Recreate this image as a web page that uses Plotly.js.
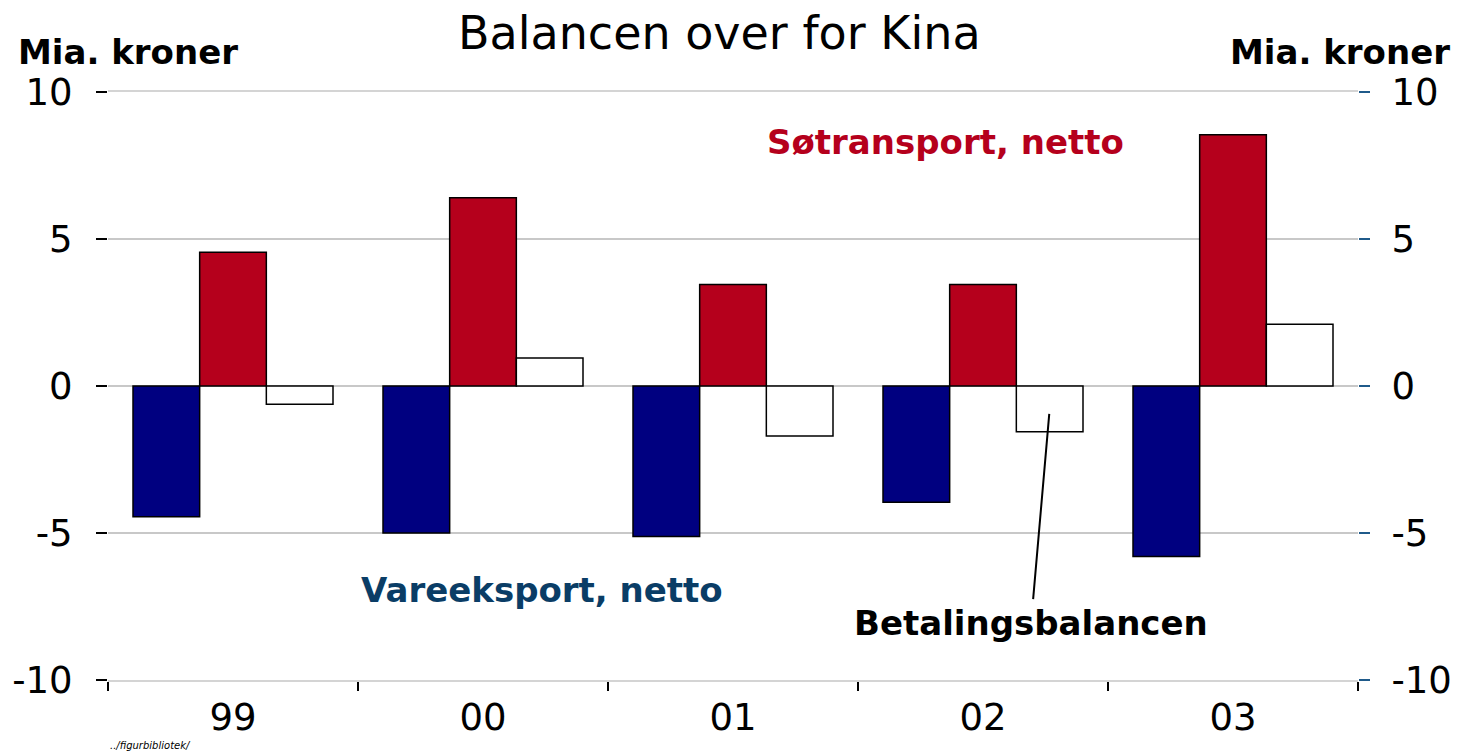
<!DOCTYPE html>
<html>
<head>
<meta charset="utf-8">
<script src="https://cdn.plot.ly/plotly-3.0.1.min.js"></script>
<style>html,body{margin:0;padding:0;background:#fff;}#chart{width:1459px;height:753px;}</style>
</head>
<body>
<div id="chart"></div>
<script>
const years = ['99', '00', '01', '02', '03'];
const vareeksport = [-4.45, -5.0, -5.12, -3.95, -5.8];
const soetransport = [4.55, 6.4, 3.45, 3.45, 8.55];
const betalingsbalancen = [-0.62, 0.95, -1.7, -1.56, 2.1];
const yTicks = [-10, -5, 0, 5, 10];

const FONT = '"DejaVu Sans", sans-serif';
const barLine = {color: '#000', width: 1.5};

const traces = [
  {type: 'bar', name: 'Vareeksport, netto', x: years, y: vareeksport,
   marker: {color: '#000080', line: barLine}, hoverinfo: 'skip'},
  {type: 'bar', name: 'Søtransport, netto', x: years, y: soetransport,
   marker: {color: '#b5001c', line: barLine}, hoverinfo: 'skip'},
  {type: 'bar', name: 'Betalingsbalancen', x: years, y: betalingsbalancen,
   marker: {color: '#ffffff', line: barLine}, hoverinfo: 'skip'},
  {type: 'scatter', x: years, y: betalingsbalancen, yaxis: 'y2', mode: 'none',
   showlegend: false, hoverinfo: 'skip'}
];

const layout = {
  width: 1459, height: 753,
  margin: {l: 108, r: 101, t: 92, b: 73},
  paper_bgcolor: '#fff', plot_bgcolor: '#fff',
  showlegend: false,
  barmode: 'group', bargap: 0.2, bargroupgap: 0,
  font: {family: FONT, color: '#000'},
  title: {text: 'Balancen over for Kina', x: 0.493, xanchor: 'center', y: 0.956, yanchor: 'middle',
          font: {size: 46, family: FONT, color: '#000'}},
  xaxis: {type: 'category', range: [-0.5, 4.5], tickson: 'boundaries',
          ticks: 'outside', ticklen: 9, tickwidth: 2, tickcolor: '#000',
          showgrid: false, showline: true, linecolor: '#d4d4d4', linewidth: 2, mirror: true, zeroline: false,
          tickfont: {size: 37, family: FONT, color: '#000'}, ticklabelstandoff: 4, fixedrange: true},
  yaxis: {range: [-10, 10], tickvals: yTicks, ticktext: yTicks.map(String),
          ticks: 'outside', ticklen: 11, tickwidth: 2, tickcolor: '#000',
          showgrid: true, gridcolor: '#c8c8c8', gridwidth: 2,
          zeroline: true, zerolinecolor: '#c8c8c8', zerolinewidth: 2, showline: false,
          tickfont: {size: 37, family: FONT, color: '#000'}, ticklabelstandoff: 16, fixedrange: true},
  yaxis2: {range: [-10, 10], tickvals: yTicks, ticktext: yTicks.map(String),
           overlaying: 'y', side: 'right',
           ticks: 'outside', ticklen: 11, tickwidth: 2, tickcolor: '#1f5a8a',
           showgrid: false, zeroline: false, showline: false,
           tickfont: {size: 37, family: FONT, color: '#000'}, ticklabelstandoff: 14, fixedrange: true},
  annotations: [
    {xref: 'paper', yref: 'paper', x: -0.074, y: 1.068, xanchor: 'left', yanchor: 'middle',
     text: '<b>Mia. kroner</b>', showarrow: false, font: {size: 34, family: FONT, color: '#000'}},
    {xref: 'paper', yref: 'paper', x: 1.075, y: 1.068, xanchor: 'right', yanchor: 'middle',
     text: '<b>Mia. kroner</b>', showarrow: false, font: {size: 34, family: FONT, color: '#000'}},
    {xref: 'x', yref: 'y', x: 2.85, y: 8.3, text: '<b>Søtransport, netto</b>', showarrow: false,
     font: {size: 34, family: FONT, color: '#b5001c'}},
    {xref: 'x', yref: 'y', x: 1.236, y: -6.94, text: '<b>Vareeksport, netto</b>', showarrow: false,
     font: {size: 34, family: FONT, color: '#0a3d66'}},
    {xref: 'x', yref: 'y', x: 3.19, y: -8.05, text: '<b>Betalingsbalancen</b>', showarrow: false,
     font: {size: 34, family: FONT, color: '#000'}},
    {xref: 'x', yref: 'y', axref: 'x', ayref: 'y', x: 3.265, y: -0.95, ax: 3.2, ay: -7.3,
     text: '', showarrow: true, arrowhead: 0, arrowwidth: 2, arrowcolor: '#000', standoff: 0, startstandoff: 0},
    {xref: 'paper', yref: 'paper', x: 0, y: -0.112, xanchor: 'left', yanchor: 'middle',
     text: '<i>../figurbibliotek/</i>', showarrow: false, font: {size: 10, family: FONT, color: '#000'}}
  ]
};

Plotly.newPlot('chart', traces, layout, {displayModeBar: false, staticPlot: true});
</script>
</body>
</html>
